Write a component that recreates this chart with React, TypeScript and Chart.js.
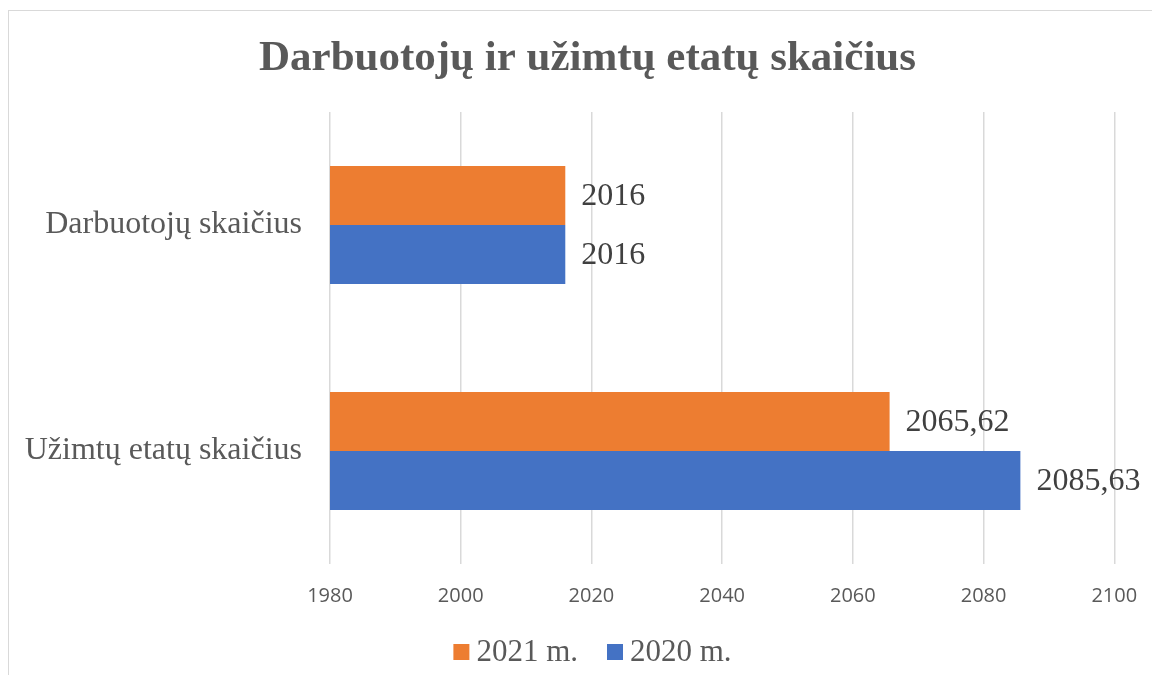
import React, { useEffect, useRef } from 'react';
import { Chart, registerables } from 'chart.js';

Chart.register(...registerables);

const chartTitle = 'Darbuotojų ir užimtų etatų skaičius';
const categories = ['Darbuotojų skaičius', 'Užimtų etatų skaičius'];
const seriesNames = ['2021 m.', '2020 m.'];
const values2021 = [2016, 2065.62];
const values2020 = [2016, 2085.63];
const valueLabels2021 = ['2016', '2065,62'];
const valueLabels2020 = ['2016', '2085,63'];
const xTicks = [1980, 2000, 2020, 2040, 2060, 2080, 2100];
const seriesColors = ['#ED7D31', '#4472C4'];

const SERIF = '"Liberation Serif", "Times New Roman", serif';

export default function App() {
  const ref = useRef<HTMLCanvasElement | null>(null);

  useEffect(() => {
    const canvas = ref.current;
    if (!canvas) return;
    const valueLabels = [valueLabels2021, valueLabels2020];

    const titlePlugin = {
      id: 'customTitle',
      afterDraw(chart: any) {
        const ctx = chart.ctx;
        ctx.save();
        ctx.font = `bold 43px ${SERIF}`;
        ctx.fillStyle = '#595959';
        ctx.textAlign = 'center';
        ctx.textBaseline = 'alphabetic';
        ctx.fillText(chartTitle, chart.width / 2 + 3, 59);
        ctx.restore();
      },
    };

    const dataLabelPlugin = {
      id: 'dataLabels',
      afterDatasetsDraw(chart: any) {
        const ctx = chart.ctx;
        ctx.save();
        ctx.font = `32px ${SERIF}`;
        ctx.fillStyle = '#404040';
        ctx.textAlign = 'left';
        ctx.textBaseline = 'middle';
        chart.data.datasets.forEach((ds: any, di: number) => {
          const meta = chart.getDatasetMeta(di);
          meta.data.forEach((el: any, i: number) => {
            ctx.fillText(valueLabels[di][i], el.x + 16, el.y + 1);
          });
        });
        ctx.restore();
      },
    };

    const legendPlugin = {
      id: 'customLegend',
      afterDraw(chart: any) {
        const ctx = chart.ctx;
        ctx.save();
        ctx.font = `31px ${SERIF}`;
        const box = 16;
        const gapBoxText = 7;
        const gapItems = 29;
        const widths = seriesNames.map((n) => ctx.measureText(n).width);
        const total =
          widths.reduce((a, w) => a + box + gapBoxText + w, 0) + gapItems * (seriesNames.length - 1);
        let x = chart.width / 2 + 8 - total / 2;
        const y = 641;
        seriesNames.forEach((n, i) => {
          ctx.fillStyle = seriesColors[i];
          ctx.fillRect(x, y - box / 2, box, box);
          x += box + gapBoxText;
          ctx.fillStyle = '#595959';
          ctx.textAlign = 'left';
          ctx.textBaseline = 'middle';
          ctx.fillText(n, x, y + 1);
          x += widths[i] + gapItems;
        });
        ctx.restore();
      },
    };

    const chart = new Chart(canvas, {
      type: 'bar',
      data: {
        labels: categories,
        datasets: [
          {
            label: seriesNames[0],
            data: values2021,
            backgroundColor: seriesColors[0],
            barPercentage: 1,
            categoryPercentage: 0.522,
          },
          {
            label: seriesNames[1],
            data: values2020,
            backgroundColor: seriesColors[1],
            barPercentage: 1,
            categoryPercentage: 0.522,
          },
        ],
      },
      options: {
        indexAxis: 'y',
        animation: false,
        responsive: false,
        maintainAspectRatio: false,
        layout: { padding: { top: 101, bottom: 71, left: 0, right: 45.7 } },
        plugins: {
          legend: { display: false },
          title: { display: false },
          tooltip: { enabled: false },
        },
        scales: {
          x: {
            type: 'linear',
            min: 1980,
            max: 2100,
            afterBuildTicks: (s: any) => {
              s.ticks = xTicks.map((v) => ({ value: v }));
            },
            afterFit: (s: any) => {
              s.height = 40;
            },
            grid: { color: '#d9d9d9', lineWidth: 1.5, drawTicks: false },
            border: { display: false },
            ticks: {
              padding: 20,
              color: '#595959',
              font: { family: '"Open Sans", sans-serif', size: 20 },
              callback: (v: any) => String(v),
            },
          },
          y: {
            afterFit: (s: any) => {
              s.width = 321;
            },
            grid: { display: false, drawTicks: false },
            border: { display: false },
            ticks: {
              padding: 28,
              color: '#595959',
              font: { family: SERIF, size: 32 },
            },
          },
        },
      },
      plugins: [titlePlugin, dataLabelPlugin, legendPlugin],
    } as any);

    return () => chart.destroy();
  }, []);

  return (
    <div
      style={{
        marginTop: 2,
        width: 1151,
        height: 664,
        borderTop: '1px solid #d9d9d9',
        borderLeft: '1px solid #d9d9d9',
      }}
    >
      <canvas ref={ref} width={1151} height={664} style={{ display: 'block' }} />
    </div>
  );
}
